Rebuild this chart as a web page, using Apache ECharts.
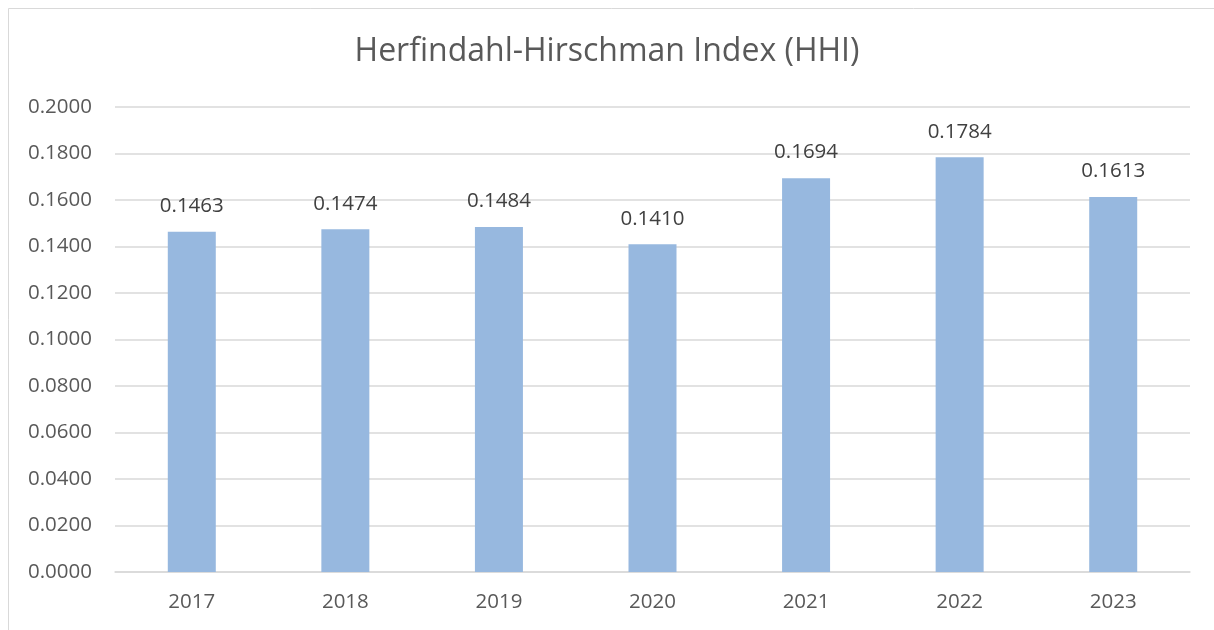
<!DOCTYPE html>
<html>
<head>
<meta charset="utf-8">
<script src="https://cdn.jsdelivr.net/npm/echarts@6/dist/echarts.min.js"></script>
<style>
  html, body { margin: 0; padding: 0; background: #fff; }
  #chart { width: 1214px; height: 630px; }
</style>
</head>
<body>
<div id="chart"></div>
<script>
// data
const years = ['2017', '2018', '2019', '2020', '2021', '2022', '2023'];
const hhi = [0.1463, 0.1474, 0.1484, 0.1410, 0.1694, 0.1784, 0.1613];

const font = '"Open Sans", "Liberation Sans", sans-serif';

const chart = echarts.init(document.getElementById('chart'));
chart.setOption({
  animation: false,
  backgroundColor: '#fff',
  // thin frame, only left and top edges visible in the crop
  graphic: [{
    type: 'rect',
    shape: { x: 8.5, y: 8.5, width: 1300, height: 700 },
    style: { fill: 'none', stroke: '#d9d9d9', lineWidth: 1 },
    silent: true
  }],
  title: {
    text: 'Herfindahl-Hirschman Index (HHI)',
    left: 'center',
    top: 31,
    textStyle: { fontFamily: font, fontSize: 32, fontWeight: 'normal', color: '#595959' }
  },
  grid: { left: 115, right: 24, top: 107, bottom: 58 },
  xAxis: {
    type: 'category',
    data: years,
    axisLine: { lineStyle: { color: '#d9d9d9', width: 1.5 } },
    axisTick: { show: false },
    axisLabel: { fontFamily: font, fontSize: 20.5, color: '#595959', margin: 20 }
  },
  yAxis: {
    type: 'value',
    min: 0,
    max: 0.2,
    interval: 0.02,
    axisLine: { show: false },
    axisTick: { show: false },
    splitLine: { lineStyle: { color: '#d9d9d9', width: 1.5 } },
    axisLabel: {
      fontFamily: font, fontSize: 20.5, color: '#595959', margin: 23,
      formatter: v => v.toFixed(4)
    }
  },
  series: [{
    type: 'bar',
    data: hhi,
    barWidth: 48,
    itemStyle: { color: '#97b8df' },
    label: {
      show: true,
      position: 'top',
      distance: 15,
      fontFamily: font,
      fontSize: 20.5,
      color: '#404040',
      formatter: p => p.value.toFixed(4)
    }
  }]
});
</script>
</body>
</html>
